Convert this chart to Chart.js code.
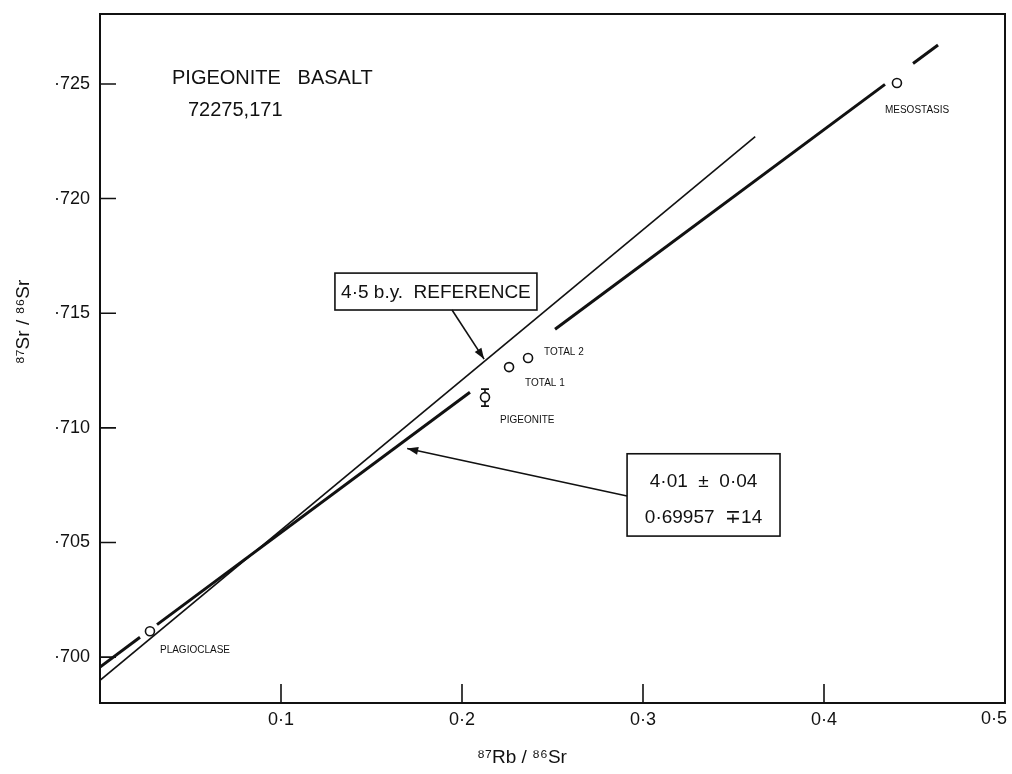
<!DOCTYPE html>
<html>
<head>
<meta charset="utf-8">
<script src="https://cdn.jsdelivr.net/npm/chart.js@4/dist/chart.umd.min.js"></script>
<style>
  html, body { margin: 0; padding: 0; background: #fff; }
  #wrap { width: 1012px; height: 774px; position: relative; }
</style>
</head>
<body>
<div id="wrap"><canvas id="rbsr"></canvas></div>
<script>
// tick positions and labels
const xTicks = [0.1, 0.2, 0.3, 0.4, 0.5];
const xTickLabels = ['0·1', '0·2', '0·3', '0·4', '0·5'];
const yTicks = [0.700, 0.705, 0.710, 0.715, 0.720, 0.725];
const yTickLabels = ['·700', '·705', '·710', '·715', '·720', '·725'];

// measured mineral fractions
const sampleNames = ['PLAGIOCLASE', 'PIGEONITE', 'TOTAL 1', 'TOTAL 2', 'MESOSTASIS'];
const rbSr = [0.0276, 0.2127, 0.2260, 0.2365, 0.4403];
const srSr = [0.70113, 0.71134, 0.71265, 0.71305, 0.72504];
// error bar on pigeonite only
const pigeoniteErr = [0.71095, 0.71169];

// 4.5 b.y. reference line (end points)
const refX = [0, 0.362];
const refY = [0.69899, 0.7227];

// 4.01 b.y. isochron, drawn in pieces (broken round the points)
const isoX = [[0, 0.0221], [0.0315, 0.2044], [0.2514, 0.4337], [0.4492, 0.4630]];
const isoY = [[0.69957, 0.70087], [0.70142, 0.71155], [0.71430, 0.72498], [0.72589, 0.72670]];

const INK = '#111';
const FONT = '"Liberation Sans", Arial, sans-serif';

const datasets = [];
datasets.push({
    type: 'line',
    data: refX.map((x, i) => ({ x: x, y: refY[i] })),
    borderColor: INK,
    borderWidth: 1.6,
    pointRadius: 0,
    fill: false,
    order: 2
});
isoX.forEach((seg, k) => {
    datasets.push({
        type: 'line',
        data: seg.map((x, i) => ({ x: x, y: isoY[k][i] })),
        borderColor: INK,
        borderWidth: 3,
        pointRadius: 0,
        fill: false,
        order: 2
    });
});
datasets.push({
    type: 'scatter',
    data: rbSr.map((x, i) => ({ x: x, y: srSr[i] })),
    pointStyle: 'circle',
    pointRadius: 4.5,
    backgroundColor: '#fff',
    borderColor: INK,
    borderWidth: 1.6,
    order: 1
});

// frame, inward ticks, error bar, titles and annotations
const paperPlugin = {
    id: 'paper',
    afterDatasetsDraw(chart) {
        const ctx = chart.ctx;
        const a = chart.chartArea;
        const xs = chart.scales.x, ys = chart.scales.y;
        const px = v => xs.getPixelForValue(v);
        const py = v => ys.getPixelForValue(v);

        ctx.save();
        ctx.strokeStyle = INK;
        ctx.fillStyle = INK;

        // frame
        ctx.lineWidth = 2;
        ctx.strokeRect(a.left, a.top, a.right - a.left, a.bottom - a.top);

        // inward tick marks
        ctx.lineWidth = 1.6;
        ctx.beginPath();
        xTicks.slice(0, 4).forEach(v => {
            ctx.moveTo(px(v), a.bottom);
            ctx.lineTo(px(v), a.bottom - 19);
        });
        yTicks.forEach(v => {
            ctx.moveTo(a.left, py(v));
            ctx.lineTo(a.left + 16, py(v));
        });
        ctx.stroke();

        // last x label sits flush with the right edge
        ctx.font = '18px ' + FONT;
        ctx.textAlign = 'right';
        ctx.textBaseline = 'middle';
        ctx.fillText(xTickLabels[4], a.right + 2, a.bottom + 16);

        // pigeonite error bar
        const ex = px(rbSr[1]);
        const e1 = py(pigeoniteErr[0]), e2 = py(pigeoniteErr[1]);
        ctx.lineWidth = 1.6;
        ctx.beginPath();
        ctx.moveTo(ex, e1); ctx.lineTo(ex, py(srSr[1]) + 4.5);
        ctx.moveTo(ex, e2); ctx.lineTo(ex, py(srSr[1]) - 4.5);
        ctx.moveTo(ex - 4, e1); ctx.lineTo(ex + 4, e1);
        ctx.moveTo(ex - 4, e2); ctx.lineTo(ex + 4, e2);
        ctx.stroke();

        // sample labels
        ctx.font = '10px ' + FONT;
        ctx.textBaseline = 'middle';
        ctx.textAlign = 'left';
        const labelOff = [[10, 19], [15, 23], [16, 16], [16, -6], [-12, 27]];
        sampleNames.forEach((n, i) => {
            ctx.fillText(n, px(rbSr[i]) + labelOff[i][0], py(srSr[i]) + labelOff[i][1]);
        });

        // title
        ctx.font = '20px ' + FONT;
        ctx.textBaseline = 'alphabetic';
        ctx.fillText('PIGEONITE   BASALT', 172, 84);
        ctx.fillText('72275,171', 188, 116);

        // reference box + arrow
        const b1 = { l: px(0.1298), r: px(0.2414), t: py(0.71675), b: py(0.71514) };
        ctx.lineWidth = 1.6;
        ctx.strokeRect(b1.l, b1.t, b1.r - b1.l, b1.b - b1.t);
        ctx.font = '19px ' + FONT;
        ctx.textAlign = 'center';
        ctx.textBaseline = 'middle';
        ctx.fillText('4·5 b.y.  REFERENCE', (b1.l + b1.r) / 2, (b1.t + b1.b) / 2 + 1);
        arrow(ctx, px(0.1945), b1.b, px(0.2122), py(0.7130));

        // isochron box + arrow
        const b2 = { l: px(0.2912), r: px(0.3757), t: py(0.70887), b: py(0.70528) };
        ctx.strokeRect(b2.l, b2.t, b2.r - b2.l, b2.b - b2.t);
        ctx.font = '19px ' + FONT;
        ctx.fillText('4·01  ±  0·04', (b2.l + b2.r) / 2, b2.t + 28);
        ctx.fillText('0·69957  ∓14', (b2.l + b2.r) / 2, b2.t + 64);
        arrow(ctx, b2.l, py(0.70703), px(0.1697), py(0.7091));

        // axis titles
        ctx.font = '19px ' + FONT;
        ctx.textAlign = 'center';
        ctx.fillText('⁸⁷Rb / ⁸⁶Sr', 522, 758);
        ctx.save();
        ctx.translate(24, 322);
        ctx.rotate(-Math.PI / 2);
        ctx.fillText('⁸⁷Sr / ⁸⁶Sr', 0, 0);
        ctx.restore();

        ctx.restore();
    }
};

function arrow(ctx, x0, y0, x1, y1) {
    ctx.beginPath();
    ctx.moveTo(x0, y0);
    ctx.lineTo(x1, y1);
    ctx.stroke();
    const ang = Math.atan2(y1 - y0, x1 - x0);
    const len = 11, w = 4;
    ctx.beginPath();
    ctx.moveTo(x1, y1);
    ctx.lineTo(x1 - len * Math.cos(ang) + w * Math.sin(ang), y1 - len * Math.sin(ang) - w * Math.cos(ang));
    ctx.lineTo(x1 - len * Math.cos(ang) - w * Math.sin(ang), y1 - len * Math.sin(ang) + w * Math.cos(ang));
    ctx.closePath();
    ctx.fill();
}

const ctx = document.getElementById('rbsr').getContext('2d');
new Chart(ctx, {
    data: { datasets: datasets },
    options: {
        responsive: true,
        maintainAspectRatio: false,
        animation: false,
        layout: { padding: { top: 14, right: 7, left: 0, bottom: 0 } },
        plugins: {
            legend: { display: false },
            tooltip: { enabled: false }
        },
        scales: {
            x: {
                type: 'linear',
                min: 0,
                max: 0.5,
                afterBuildTicks: s => { s.ticks = xTicks.map(v => ({ value: v })); },
                afterFit: s => {
                    s.height = 71;
                    s.paddingLeft = 0;
                    s.paddingRight = 0;
                },
                grid: { display: false, drawTicks: false },
                border: { display: false },
                ticks: {
                    padding: 6,
                    color: INK,
                    font: { family: FONT, size: 18 },
                    callback: (v) => {
                        const i = xTicks.findIndex(t => Math.abs(t - v) < 1e-9);
                        // 0.5 is drawn by the plugin, right-aligned
                        return i >= 0 && i < 4 ? xTickLabels[i] : '';
                    }
                }
            },
            y: {
                type: 'linear',
                min: 0.698,
                max: 0.72805,
                afterBuildTicks: s => { s.ticks = yTicks.map(v => ({ value: v })); },
                afterFit: s => {
                    s.width = 100;
                    s.paddingTop = 0;
                    s.paddingBottom = 0;
                },
                grid: { display: false, drawTicks: false },
                border: { display: false },
                ticks: {
                    padding: 10,
                    color: INK,
                    font: { family: FONT, size: 18 },
                    callback: (v) => {
                        const i = yTicks.findIndex(t => Math.abs(t - v) < 1e-9);
                        return i >= 0 ? yTickLabels[i] : '';
                    }
                }
            }
        }
    },
    plugins: [paperPlugin]
});
</script>
</body>
</html>
